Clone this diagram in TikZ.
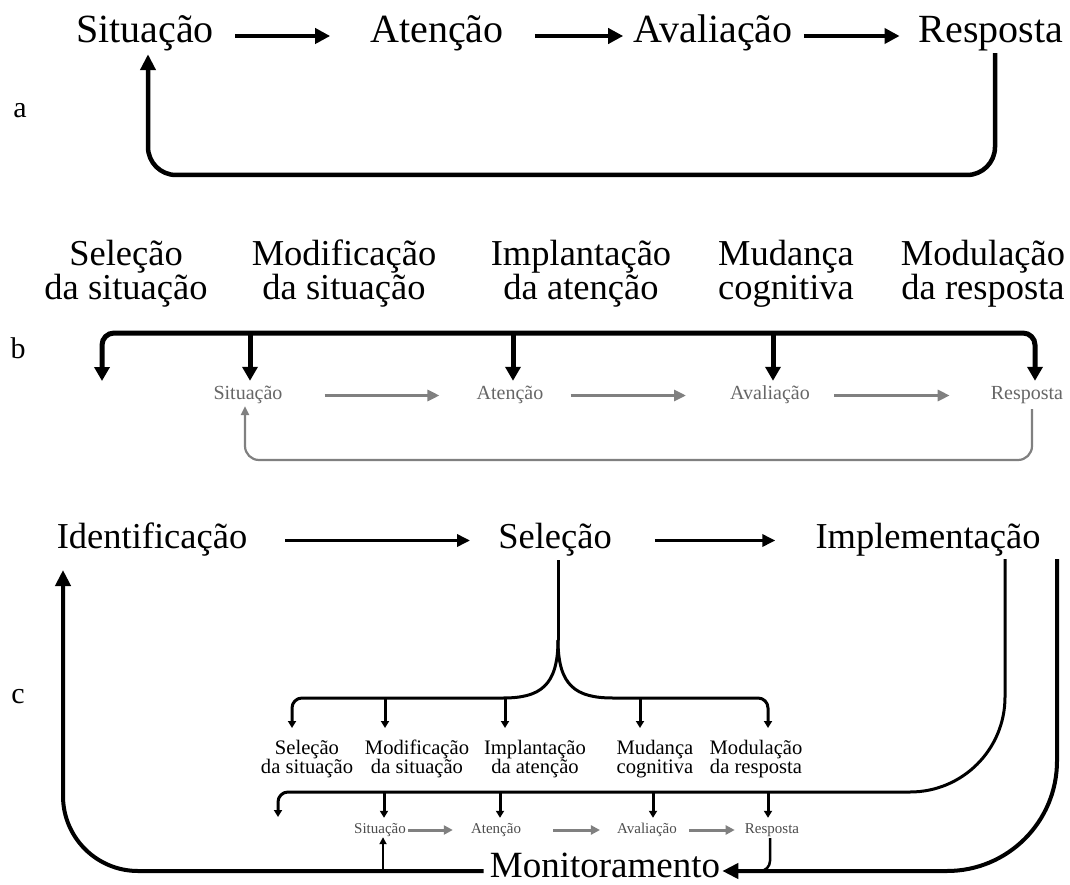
\documentclass[tikz,border=0pt]{standalone}
\usepackage{fontspec}
\setmainfont{Liberation Serif}
\usetikzlibrary{arrows.meta}
\newcommand\tightsk{\lineskiplimit=-60pt\relax\lineskip=0pt\relax}
\begin{document}
\begin{tikzpicture}[x=1pt,y=-1pt,
  nb/.style={inner sep=0pt, anchor=base},
  ta/.style={nb, font=\fontsize{40}{44}\selectfont, text height=24pt, text depth=10pt},
  tc/.style={nb, font=\fontsize{36.5}{40}\selectfont, text height=23pt, text depth=8pt},
  tb/.style={inner sep=0pt, anchor=north, align=center, font=\fontsize{36.5}{34}\selectfont\tightsk},
  ts/.style={inner sep=0pt, anchor=north, align=center, font=\fontsize{20.6}{18.8}\selectfont\tightsk},
  tg/.style={nb, font=\fontsize{20}{22}\selectfont, text=black!60, text height=12pt, text depth=5pt},
  tt/.style={nb, font=\fontsize{15}{17}\selectfont, text=black!70, text height=9pt, text depth=3pt},
  tl/.style={nb, font=\fontsize{30}{32}\selectfont},
  arA/.style={line width=4.5pt, -{Triangle[length=15pt,width=15pt]}},
  fbA/.style={line width=4.5pt, -{Triangle[length=16pt,width=15pt]}},
  brB/.style={line width=5pt},
  tipB/.style={line width=5pt, -{Triangle[length=14pt,width=15pt]}},
  garr/.style={line width=3.5pt, draw=black!50, -{Triangle[length=12pt,width=11pt]}},
  gfb/.style={line width=2.2pt, draw=black!50, -{Triangle[length=9pt,width=8pt]}},
  arC/.style={line width=3.5pt, -{Triangle[length=13pt,width=12pt]}},
  lnC/.style={line width=3pt},
  tipC/.style={line width=3pt, -{Triangle[length=7pt,width=8pt]}},
  bigC/.style={line width=4pt, -{Triangle[length=16pt,width=15pt]}},
  tarr/.style={line width=3pt, draw=black!50, -{Triangle[length=9pt,width=9pt]}},
  thinar/.style={line width=2.2pt, -{Triangle[length=7pt,width=7pt]}},
]
\useasboundingbox (0,0) rectangle (1070,885);

% ---------- part a ----------
\node[ta] (sitA) at (145,43) {Situação};
\node[ta] (ateA) at (437,43) {Atenção};
\node[ta] (avaA) at (713,43) {Avaliação};
\node[ta] (resA) at (991,43) {Resposta};
\node[tl] (la) at (20,118) {a};
\draw[arA, shorten <=21pt, shorten >=40pt] (sitA.east) -- (ateA.west);
\draw[arA, shorten <=31pt, shorten >=10pt] (ateA.east) -- (avaA.west);
\draw[arA, shorten <=11pt, shorten >=19pt] (avaA.east) -- (resA.west);
\path ([xshift=4pt]resA.south) coordinate (ra) ([xshift=3pt]sitA.south) coordinate (sa);
\coordinate (ya) at (0,175);
\draw[fbA, rounded corners=28, shorten >=1pt] (ra) -- (ra |- ya) -- (sa |- ya) -- (sa);

% ---------- part b ----------
\node[tb] (b1) at (126,240) {Seleção\\da situação};
\node[tb] (b2) at (344,240) {Modificação\\da situação};
\node[tb] (b3) at (581,240) {Implantação\\da atenção};
\node[tb] (b4) at (786,240) {Mudança\\cognitiva};
\node[tb] (b5) at (983,240) {Modulação\\da resposta};
\node[tl] (lb) at (18,358) {b};

\node[tg] (sitB) at (248,399) {Situação};
\node[tg] (ateB) at (510,399) {Atenção};
\node[tg] (avaB) at (770,399) {Avaliação};
\node[tg] (resB) at (1027,399) {Resposta};
\draw[garr, shorten <=42pt, shorten >=37pt] (sitB.east) -- (ateB.west);
\draw[garr, shorten <=27pt, shorten >=44pt] (ateB.east) -- (avaB.west);
\draw[garr, shorten <=24pt, shorten >=41pt] (avaB.east) -- (resB.west);

\coordinate (bl) at (102,381);
\coordinate (bt) at (0,333);
\path ([xshift=8pt]resB.north) coordinate (rbn);
\draw[brB, {Triangle[length=14pt,width=15pt]}-{Triangle[length=14pt,width=15pt]}, rounded corners=12, shorten >=6pt]
  (bl) -- (bl |- bt) -- (rbn |- bt) -- (rbn);
\path ([xshift=2pt]sitB.north) coordinate (sbn) ([xshift=3pt]ateB.north) coordinate (abn) ([xshift=3pt]avaB.north) coordinate (vbn);
\draw[tipB, shorten >=6pt] (sbn |- bt) -- (sbn);
\draw[tipB, shorten >=6pt] (abn |- bt) -- (abn);
\draw[tipB, shorten >=6pt] (vbn |- bt) -- (vbn);

\coordinate (yb) at (0,460);
\path ([xshift=5pt]resB.south) coordinate (rbs) ([xshift=-3pt]sitB.south) coordinate (sbs);
\draw[gfb, rounded corners=14, shorten <=5pt, shorten >=2pt] (rbs) -- (rbs |- yb) -- (sbs |- yb) -- (sbs);

% ---------- part c ----------
\node[tc] (idC) at (152,548) {Identificação};
\node[tc] (selC) at (555,548) {Seleção};
\node[tc] (impC) at (928,548) {Implementação};
\node[tl] (lc) at (18,703) {c};
\draw[arC, shorten <=38pt, shorten >=28pt] (idC.east) -- (selC.west);
\draw[arC, shorten <=43pt, shorten >=40pt] (selC.east) -- (impC.west);

% fan from Seleção
\path ([xshift=3pt]selC.south) coordinate (ss);
\coordinate (fk) at (558,640);
\coordinate (sb) at (0,698);
\draw[lnC, shorten <=4pt] (ss) -- (fk);
\draw[tipC] (fk) .. controls (558,686) and (540,698) .. (503,698) [rounded corners=10] -- (292,698) -- (292,728);
\draw[tipC] (fk) .. controls (558,686) and (576,698) .. (613,698) [rounded corners=10] -- (768,698) -- (768,728);
\coordinate (d2) at (385,728);
\coordinate (d3) at (505,728);
\coordinate (d4) at (640,728);
\draw[tipC] (d2 |- sb) -- (d2);
\draw[tipC] (d3 |- sb) -- (d3);
\draw[tipC] (d4 |- sb) -- (d4);

\node[ts] (s1) at (307,740) {Seleção\\da situação};
\node[ts] (s2) at (417,740) {Modificação\\da situação};
\node[ts] (s3) at (535,740) {Implantação\\da atenção};
\node[ts] (s4) at (655,740) {Mudança\\cognitiva};
\node[ts] (s5) at (756,740) {Modulação\\da resposta};

% small process row
\node[tt] (sitC) at (380,833) {Situação};
\node[tt] (ateC) at (496,833) {Atenção};
\node[tt] (avaC) at (647,833) {Avaliação};
\node[tt] (resC) at (772,833) {Resposta};
\draw[tarr, shorten <=2pt, shorten >=18pt] (sitC.east) -- (ateC.west);
\draw[tarr, shorten <=32pt, shorten >=17pt] (ateC.east) -- (avaC.west);
\draw[tarr, shorten <=12pt, shorten >=10pt] (avaC.east) -- (resC.west);

% lower bracket from Implementação
\path (impC.south) ++(77,0) coordinate (ic);
\coordinate (lb2) at (0,792);
\draw[tipC, shorten <=3pt] (ic) -- (1005,697) .. controls (1005,749.5) and (962.5,792) .. (910,792) [rounded corners=10] -- (278,792) -- (278,817);
\path ([xshift=4pt]sitC.north) coordinate (n1) ([xshift=4pt]ateC.north) coordinate (n2)
      ([xshift=6pt]avaC.north) coordinate (n3) ([xshift=-4pt]resC.north) coordinate (n4);
\draw[tipC, shorten >=6pt] (n1 |- lb2) -- (n1);
\draw[tipC, shorten >=6pt] (n2 |- lb2) -- (n2);
\draw[tipC, shorten >=6pt] (n3 |- lb2) -- (n3);
\draw[tipC, shorten >=6pt] (n4 |- lb2) -- (n4);

% Monitoramento
\node[nb, font=\fontsize{37}{40}\selectfont, text height=14pt, text depth=2pt] (monC) at (605,877) {Monitoramento};
\coordinate (ml) at (0,871);
\coordinate (idT) at (63,570);
\draw[bigC, shorten <=6pt] (monC.west) -- (138,871) .. controls (96.6,871) and (63,837.4) .. (63,796) -- (idT);
\path (impC.south) ++(129,0) coordinate (oc);
\draw[bigC, shorten <=3pt, shorten >=2pt] (oc) -- (1057,761) .. controls (1057,821.8) and (1007.8,871) .. (947,871) -- (monC.east);
\path ([xshift=3pt]sitC.south) coordinate (sc);
\draw[thinar, shorten >=1pt] (sc |- ml) -- (sc);
\path ([xshift=-2pt]resC.south) coordinate (rcs);
\coordinate (rj) at (745,871);
\draw[line width=2.5pt, rounded corners=10, shorten <=2pt] (rcs) |- (rj);
\end{tikzpicture}
\end{document}
